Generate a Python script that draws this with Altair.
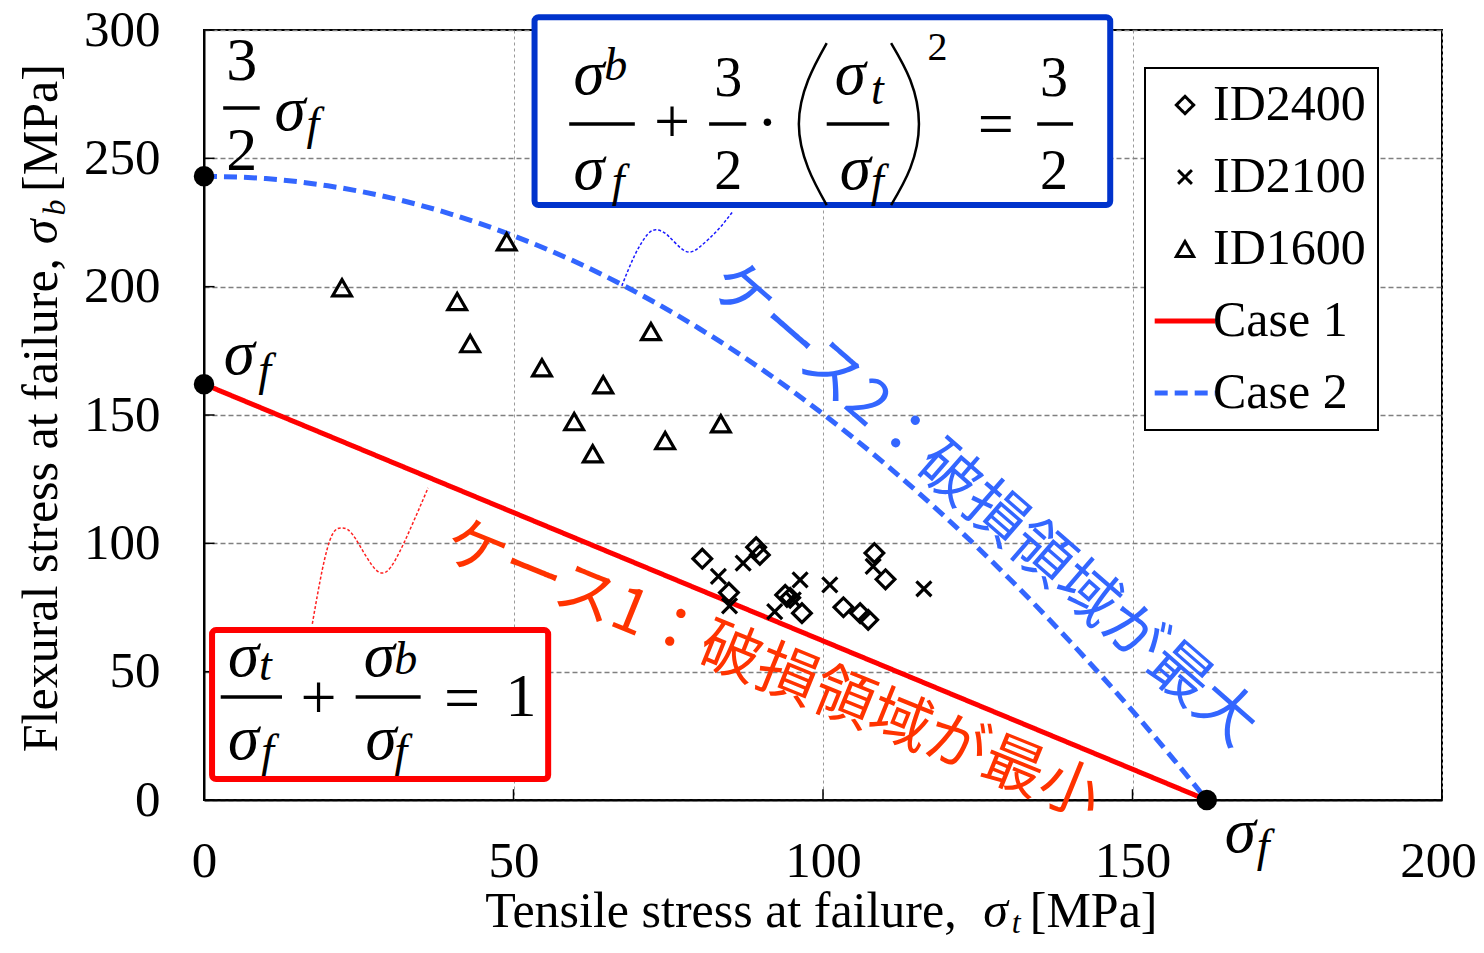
import altair as alt
import pandas as pd

# ---------------- data ----------------
SERIES = ["ID2400", "ID2100", "ID1600", "Case 1", "Case 2"]

id2400_t = [80.5, 89.2, 89.8, 84.8, 93.9, 94.7, 96.6, 108.3, 110.1, 103.3, 106.0, 107.3]
id2400_b = [94.0, 98.5, 95.5, 80.8, 79.9, 78.8, 72.8, 96.2, 86.0, 75.1, 72.8, 70.2]
id2100_t = [87.1, 83.1, 84.9, 96.3, 92.2, 95.2, 101.1, 108.1, 116.3]
id2100_b = [92.3, 87.1, 75.6, 85.8, 73.4, 78.0, 83.8, 91.0, 82.3]
id1600_t = [48.9, 22.3, 40.9, 43.0, 72.2, 54.6, 64.5, 59.8, 62.8, 74.5, 83.5]
id1600_b = [217.5, 199.6, 194.2, 177.8, 182.5, 168.4, 161.8, 147.4, 134.9, 140.0, 146.6]

case1_t = [0, 162]
case1_b = [162, 0]
case2_t = [0, 10, 20, 30, 40, 50, 60, 70, 80, 90, 100, 110, 120, 130, 140, 150, 156, 162]
case2_b = [243.0, 242.1, 239.3, 234.7, 228.2, 219.8, 209.7, 197.6, 183.7, 168.0,
           150.4, 131.0, 109.7, 86.5, 61.5, 34.7, 17.7, 0.0]

key_t = [0, 0, 162]
key_b = [162, 243, 0]

x_ticks = [0, 50, 100, 150, 200]
y_ticks = [0, 50, 100, 150, 200, 250, 300]
x_tick_len = 4.2   # inward tick length, y units for x-axis ticks
y_tick_len = 1.7   # inward tick length, x units for y-axis ticks

# axis titles (drawn as text so that the subscripts can sit in place)
xt_main, xt_unit = "Tensile stress at failure,", "[MPa]"
yt_main, yt_unit = "Flexural stress at failure,", "[MPa]"
xt_x = [121.6, 127.9, 131.2, 133.4]
xt_y = [-49.3, -49.3, -52.0, -49.3]
yt_x = [-23.7, -23.7, -22.5, -23.7]
yt_y = [211.2, 221.3, 230.8, 236.9]

# annotation texts (data units)
sigma_txt = ["σ"] * 11
sigma_x = [62.2, 62.2, 104.4, 105.2, 6.4, 6.4, 28.3, 28.6, 13.9, 5.7, 167.4]
sigma_y = [275.1, 238.0, 275.1, 238.0, 48.5, 15.8, 48.5, 15.8, 261.0, 166.1, -20.3]

sub_txt = ["b", "f", "t", "f", "t", "f", "b", "f", "f", "f", "f"]
sub_x = [66.5, 66.9, 108.8, 108.8, 9.9, 10.3, 32.6, 31.8, 17.6, 9.8, 171.1]
sub_y = [280.5, 235.3, 271.2, 235.3, 46.6, 13.3, 49.2, 13.3, 257.5, 161.7, -23.8]

digit_txt = ["3", "2", "3", "2", "2", "1", "3", "2"]
digit_x = [84.7, 84.7, 137.3, 137.3, 118.5, 51.2, 6.1, 6.1]
digit_y = [274.3, 238.0, 274.3, 238.0, 288.3, 32.8, 280.5, 245.5]
digit_fs = [56, 56, 56, 56, 40, 62, 62, 62]

op_txt = ["+", "·", "=", "+", "="]
op_x = [75.6, 91.0, 127.9, 18.5, 41.7]
op_y = [263.4, 263.4, 262.6, 38.8, 39.1]

bar_x1 = [59.0, 81.6, 100.6, 134.6, 2.7, 24.5, 3.1]
bar_x2 = [69.6, 87.6, 110.7, 140.4, 12.6, 35.0, 9.0]
bar_y = [263.4, 263.4, 263.4, 263.4, 40.1, 40.1, 269.6]

paren_id = ["L"] * 5 + ["R"] * 5
paren_x = [100.6, 97.6, 96.1, 97.6, 100.6, 111.0, 114.1, 115.5, 114.1, 111.0]
paren_y = [294.9, 280.5, 263.4, 246.2, 231.8, 294.9, 280.5, 263.4, 246.2, 231.8]

box_x1 = [53.4, 1.3]
box_x2 = [146.4, 55.6]
box_y1 = [231.8, 8.2]
box_y2 = [305.0, 66.2]
box_col = ["#0033cc", "#ff0000"]

conn_id = ["blue"] * 9 + ["red"] * 9
conn_col = ["#1a1aff"] * 9 + ["#ff2020"] * 9
conn_x = [67.5, 69.6, 71.7, 73.2, 75.0, 77.7, 80.1, 83.0, 85.5,
          17.5, 19.1, 20.7, 22.3, 24.4, 28.0, 30.9, 33.6, 36.2]
conn_y = [200.3, 212.3, 220.5, 222.1, 219.8, 213.9, 215.5, 222.1, 229.5,
          68.6, 89.6, 103.3, 106.0, 102.1, 89.2, 93.5, 107.1, 121.6]

jp_txt = ["ケース2：破損領域が最大", "ケース1：破損領域が最小"]
jp_x = [125.8, 91.8]
jp_y = [114.9, 50.0]
jp_angle = [41, 22]
jp_col = ["#3366ff", "#ff3300"]

# ---------------- tables ----------------
pts = pd.DataFrame({
    "t": id2400_t + id2100_t + id1600_t,
    "b": id2400_b + id2100_b + id1600_b,
    "series": ["ID2400"] * len(id2400_t) + ["ID2100"] * len(id2100_t) + ["ID1600"] * len(id1600_t),
})
lines = pd.DataFrame({
    "t": case1_t + case2_t,
    "b": case1_b + case2_b,
    "series": ["Case 1"] * len(case1_t) + ["Case 2"] * len(case2_t),
})
keys = pd.DataFrame({"t": key_t, "b": key_b})

xscale = alt.Scale(domain=[0, 200], nice=False)
yscale = alt.Scale(domain=[0, 300], nice=False)
xaxis = alt.Axis(values=x_ticks, title=None,
                 labelOffset={"condition": {"test": "datum.value == 200", "value": -4}, "value": 0})
yaxis = alt.Axis(values=y_ticks, title=None)


def X(f):
    return alt.X(f"{f}:Q", scale=xscale, axis=xaxis)


def Y(f):
    return alt.Y(f"{f}:Q", scale=yscale, axis=yaxis)


LINE_SYM = "M-3.5,-0.12L3.5,-0.12M-3.5,0.12L3.5,0.12"
color_s = alt.Scale(domain=SERIES, range=["black", "black", "black", "#ff0000", "#3366ff"])
shape_s = alt.Scale(domain=SERIES, range=["diamond", "M-0.8,-0.8L0.8,0.8M-0.8,0.8L0.8,-0.8",
                                          "triangle-up", LINE_SYM, LINE_SYM])
dash_s = alt.Scale(domain=SERIES, range=[[1, 0], [1, 0], [1, 0], [1, 0], [13, 7]])
leg = alt.Legend(title=None)

line_layer = alt.Chart(lines).mark_line(interpolate="monotone", strokeWidth=5).encode(
    x=X("t"), y=Y("b"),
    color=alt.Color("series:N", scale=color_s, legend=leg),
    strokeDash=alt.StrokeDash("series:N", scale=dash_s, legend=leg),
)
pt_layer = alt.Chart(pts).mark_point(filled=False, size=350, opacity=1, strokeWidth=3.2).encode(
    x=X("t"), y=Y("b"),
    shape=alt.Shape("series:N", scale=shape_s, legend=leg),
    color=alt.Color("series:N", scale=color_s, legend=leg),
)
key_layer = alt.Chart(keys).mark_circle(size=420, color="black", opacity=1).encode(x=X("t"), y=Y("b"))

# inward ticks
xt_df = pd.DataFrame({"x": x_ticks, "y0": [0] * len(x_ticks), "y1": [x_tick_len] * len(x_ticks)})
xtick_layer = alt.Chart(xt_df).mark_rule(color="black", strokeWidth=1.5).encode(
    x=X("x"), y=Y("y0"), y2="y1:Q")
yt_df = pd.DataFrame({"y": y_ticks, "x0": [0] * len(y_ticks), "x1": [y_tick_len] * len(y_ticks)})
ytick_layer = alt.Chart(yt_df).mark_rule(color="black", strokeWidth=1.5).encode(
    y=Y("y"), x=X("x0"), x2="x1:Q")

conn_df = pd.DataFrame({"x": conn_x, "y": conn_y, "id": conn_id, "c": conn_col,
                        "k": list(range(len(conn_x)))})
conn_layer = alt.Chart(conn_df).mark_line(strokeWidth=1.5, strokeDash=[3, 2], interpolate="natural").encode(
    x=X("x"), y=Y("y"), detail="id:N", order=alt.Order("k:Q"),
    color=alt.Color("c:N", scale=None),
)

box_df = pd.DataFrame({"x1": box_x1, "x2": box_x2, "y1": box_y1, "y2": box_y2, "c": box_col})
box_layer = alt.Chart(box_df).mark_rect(fill="white", strokeWidth=6, cornerRadius=4, opacity=1).encode(
    x=X("x1"), x2="x2:Q", y=Y("y1"), y2="y2:Q",
    stroke=alt.Stroke("c:N", scale=None),
)

bar_df = pd.DataFrame({"x1": bar_x1, "x2": bar_x2, "y": bar_y})
bar_layer = alt.Chart(bar_df).mark_rule(color="black", strokeWidth=3.5).encode(
    x=X("x1"), x2="x2:Q", y=Y("y"))

paren_df = pd.DataFrame({"x": paren_x, "y": paren_y, "id": paren_id, "k": list(range(len(paren_x)))})
paren_layer = alt.Chart(paren_df).mark_line(color="black", strokeWidth=2.5, interpolate="natural").encode(
    x=X("x"), y=Y("y"), detail="id:N", order=alt.Order("k:Q"))

sig_df = pd.DataFrame({"x": sigma_x, "y": sigma_y, "s": sigma_txt})
sig_layer = alt.Chart(sig_df).mark_text(font="Liberation Serif", fontStyle="italic", fontSize=63,
                                        align="center", baseline="alphabetic", color="black").encode(
    x=X("x"), y=Y("y"), text="s:N")

sub_df = pd.DataFrame({"x": sub_x, "y": sub_y, "s": sub_txt})
sub_layer = alt.Chart(sub_df).mark_text(font="Liberation Serif", fontStyle="italic", fontSize=46,
                                        align="center", baseline="alphabetic", color="black").encode(
    x=X("x"), y=Y("y"), text="s:N")

dig_df = pd.DataFrame({"x": digit_x, "y": digit_y, "s": digit_txt, "fs": digit_fs})
dig_layer = alt.Chart(dig_df).mark_text(font="Liberation Serif", align="center", baseline="alphabetic",
                                        color="black").encode(
    x=X("x"), y=Y("y"), text="s:N", size=alt.Size("fs:Q", scale=None))

op_df = pd.DataFrame({"x": op_x, "y": op_y, "s": op_txt})
op_layer = alt.Chart(op_df).mark_text(font="Liberation Serif", fontSize=64, align="center",
                                      baseline="middle", color="black").encode(
    x=X("x"), y=Y("y"), text="s:N")

jp_df = pd.DataFrame({"x": jp_x, "y": jp_y, "s": jp_txt, "a": jp_angle, "c": jp_col})
jp_layer = alt.Chart(jp_df).mark_text(font="Noto Sans CJK JP", fontSize=61, align="center",
                                      baseline="middle").encode(
    x=X("x"), y=Y("y"), text="s:N", angle=alt.Angle("a:Q", scale=None),
    color=alt.Color("c:N", scale=None))


# axis title pieces
def title_piece(x, y, s, align, style, size, angle):
    df = pd.DataFrame({"x": [x], "y": [y], "s": [s]})
    kw = dict(font="Liberation Serif", fontSize=size, align=align, baseline="alphabetic",
              color="black", fontStyle=style)
    if angle:
        kw["angle"] = angle
    return alt.Chart(df).mark_text(**kw).encode(x=X("x"), y=Y("y"), text="s:N")


title_layers = [
    title_piece(xt_x[0], xt_y[0], xt_main, "right", "normal", 50, 0),
    title_piece(xt_x[1], xt_y[1], "σ", "center", "italic", 50, 0),
    title_piece(xt_x[2], xt_y[2], "t", "center", "italic", 32, 0),
    title_piece(xt_x[3], xt_y[3], xt_unit, "left", "normal", 50, 0),
    title_piece(yt_x[0], yt_y[0], yt_main, "right", "normal", 50, 270),
    title_piece(yt_x[1], yt_y[1], "σ", "center", "italic", 50, 270),
    title_piece(yt_x[2], yt_y[2], "b", "center", "italic", 32, 270),
    title_piece(yt_x[3], yt_y[3], yt_unit, "left", "normal", 50, 270),
]

chart = alt.layer(
    xtick_layer, ytick_layer,
    line_layer, pt_layer, key_layer, conn_layer, box_layer, bar_layer, paren_layer,
    sig_layer, sub_layer, dig_layer, op_layer, jp_layer, *title_layers,
).properties(
    width=1238, height=770,
    padding={"left": 196, "top": 22, "right": 34, "bottom": 139},
    autosize=alt.AutoSizeParams(type="none"),
).configure_view(
    stroke="black", strokeWidth=2,
).configure_axis(
    labelFont="Liberation Serif", labelFontSize=51, labelColor="black",
    domainColor="black", domainWidth=2, ticks=False,
    gridColor="#808080", gridDash=[5, 3], gridWidth=1.3,
).configure_axisX(
    labelPadding=36, gridColor="#9a9a9a", gridDash=[3, 3], gridWidth=1,
    labelFlush=False,
).configure_axisY(
    labelPadding=44,
).configure_legend(
    orient="none", legendX=941, legendY=38, padding=12,
    strokeColor="black", fillColor="white", strokeWidth=2,
    labelFont="Liberation Serif", labelFontSize=50, labelColor="black",
    symbolSize=300, symbolStrokeWidth=3, rowPadding=22, symbolOffset=3, labelOffset=3,
)

chart.save("out.html", embed_options={"renderer": "svg", "actions": False})
